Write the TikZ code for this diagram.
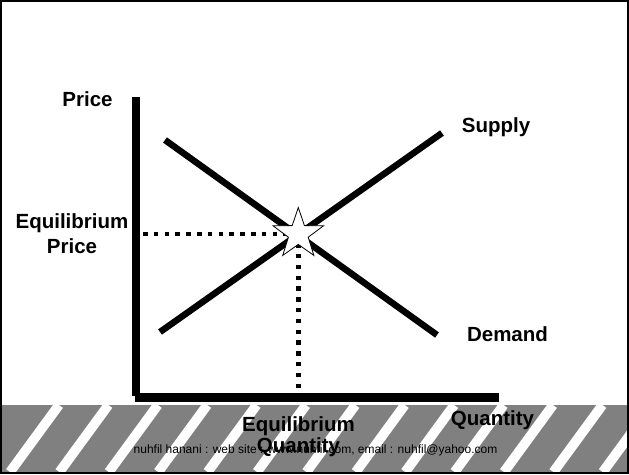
\documentclass[tikz,border=0pt]{standalone}
\usepackage{fontspec}
\setmainfont{Liberation Sans}
\usetikzlibrary{shapes.geometric,positioning}

\begin{document}
\begin{tikzpicture}[x=1pt,y=-1pt,axis line/.style={line width=8pt},curve line/.style={line width=6.5pt},dot line/.style={line width=4.5pt,dash pattern=on 4.5pt off 6.3pt},label node/.style={font=\fontsize{20.5}{23}\selectfont\bfseries,inner sep=0pt,align=center},star node/.style={star,star points=5,star point ratio=2.55,minimum size=53pt,inner sep=0pt,draw,fill=white,line width=0.8pt},stripe/.style={white,line width=9.7pt}]

	\useasboundingbox (0,0) rectangle (629,474);

	% bottom band
	\fill[gray] (1,405) rectangle (628,472);
	\begin{scope}
		\clip (1,405) rectangle (628,472);
		\foreach \t in {0,...,12}
			\draw[stripe] ({10+49.4*\t},472) -- ({59+49.4*\t},405);
	\end{scope}
	\node[font=\fontsize{12}{14}\selectfont,inner sep=0pt,anchor=base] (footer) at (315.5,453) {nuhfil hanani : web site : www.nuhfil.com, email : nuhfil@yahoo.com};

	% axes
	\coordinate (ptop) at (136,97);
	\coordinate (pbot) at (136,396);
	\coordinate (qleft) at (135,397.5);
	\coordinate (qright) at (499,397.5);
	\draw[axis line] (ptop) -- (pbot);
	\draw[axis line,line width=9pt] (qleft) -- (qright);

	% supply and demand
	\coordinate (s1) at (160,332);
	\coordinate (s2) at (442,133);
	\coordinate (d1) at (165,140);
	\coordinate (d2) at (437,335);
	\draw[curve line] (s1) -- (s2);
	\draw[curve line] (d1) -- (d2);

	\coordinate (eq) at (298.3,234);
	\coordinate (peq) at (143,234);
	\coordinate (qeq) at (298.3,388);
	\path[dot line]
		(peq) edge (eq)
		(qeq) edge (eq);
	\node[star node] (star) at (eq) {};

	\node[label node,anchor=base] (price) at (87.5,106) {Price};
	\node[label node,anchor=north] (eqprice) at (72,213) {Equilibrium\\[2pt]Price};
	\node[label node,anchor=base] (supply) at (496,132) {Supply};
	\node[label node,anchor=base] (demand) at (507.5,341) {Demand};
	\node[label node,anchor=north] (eqquantity) at (298.5,416) {Equilibrium\\[-2pt]Quantity};
	\node[label node,anchor=base] (quantity) at (492.5,425) {Quantity};

	\draw[line width=2pt] (1,1) rectangle (628,473);

\end{tikzpicture}
\end{document}
